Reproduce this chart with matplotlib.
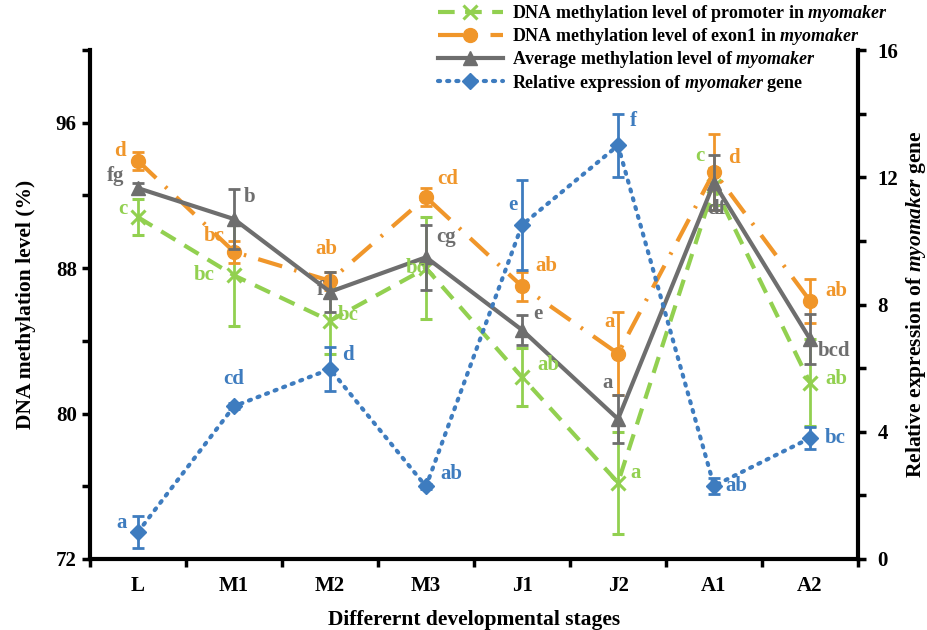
import matplotlib
matplotlib.use("Agg")
import matplotlib.pyplot as plt
import numpy as np
from matplotlib.ticker import MultipleLocator

plt.rcParams['font.family'] = ['Liberation Serif', 'DejaVu Serif']
plt.rcParams['font.weight'] = 'bold'
plt.rcParams['mathtext.fontset'] = 'custom'
plt.rcParams['mathtext.rm'] = 'Liberation Serif:bold'
plt.rcParams['mathtext.it'] = 'Liberation Serif:bold:italic'

stages = ["L", "M1", "M2", "M3", "J1", "J2", "A1", "A2"]

promoter = [90.8, 87.6, 85.1, 88.0, 82.0, 76.2, 92.5, 81.7]
promoter_err = [1.0, 2.8, 1.8, 2.8, 1.6, 2.8, 1.0, 2.4]
promoter_sig = ["c", "bc", "bc", "bc", "ab", "a", "c", "ab"]

exon1 = [93.9, 88.9, 87.3, 91.9, 87.0, 83.3, 93.3, 86.2]
exon1_err = [0.5, 0.6, 0.5, 0.5, 0.8, 2.3, 2.1, 1.2]
exon1_sig = ["d", "bc", "ab", "cd", "ab", "a", "d", "ab"]

average = [92.4, 90.7, 86.7, 88.6, 84.6, 79.7, 92.7, 84.1]
average_err = [0.3, 1.65, 1.1, 1.8, 0.8, 1.3, 1.5, 1.4]
average_sig = ["fg", "b", "f", "cg", "e", "a", "df", "bcd"]

expression = [0.85, 4.8, 5.97, 2.28, 10.5, 13.0, 2.3, 3.8]
expression_err = [0.5, 0.1, 0.7, 0.08, 1.4, 1.0, 0.25, 0.35]
expression_sig = ["a", "cd", "d", "ab", "e", "f", "ab", "bc"]

series_labels = [r"DNA methylation level of promoter in $\mathit{myomaker}$",
                 r"DNA methylation level of exon1 in $\mathit{myomaker}$",
                 r"Average methylation level of $\mathit{myomaker}$",
                 r"Relative expression of $\mathit{myomaker}$ gene"]

c_green = "#92D050"
c_orange = "#F0962A"
c_gray = "#6E6E6E"
c_blue = "#3E7CBF"

x = np.arange(len(stages)) + 0.5

fig = plt.figure(figsize=(9.27, 6.30), dpi=100)
ax = fig.add_axes([0.0971, 0.1127, 0.8285, 0.8079])
ax2 = ax.twinx()

lw = 3
h1 = ax.errorbar(x, promoter, yerr=promoter_err, color=c_green, lw=lw, ls=(0, (4, 2.5)),
                 marker='x', ms=10, mew=2.2, elinewidth=2, capsize=4, capthick=2, zorder=3)
h2 = ax.errorbar(x, exon1, yerr=exon1_err, color=c_orange, lw=lw, ls=(0, (6, 3, 0.6, 3)),
                 marker='o', ms=10, elinewidth=2, capsize=4, capthick=2, zorder=4)
h3 = ax.errorbar(x, average, yerr=average_err, color=c_gray, lw=lw, ls='-',
                 marker='^', ms=10, elinewidth=2, capsize=4, capthick=2, zorder=5)
h4 = ax2.errorbar(x, expression, yerr=expression_err, color=c_blue, lw=lw, ls=(0, (0.5, 1.7)),
                  dash_capstyle='round', marker='D', ms=8, elinewidth=2, capsize=4, capthick=2)

fs = 15
ax.set_xlim(0, 8)
ax.set_ylim(72, 100)
ax2.set_ylim(0, 16)
ax.set_xticks(np.arange(0, 9))
ax.set_xticklabels([])
ax.set_xticks(x, minor=True)
ax.set_xticklabels(stages, minor=True, fontsize=fs, fontweight='bold')
ax.tick_params(axis='x', which='minor', length=0, pad=12)
ax.tick_params(axis='x', which='major', length=6, width=2.5, direction='out')

ax.set_yticks([72, 80, 88, 96])
ax.yaxis.set_minor_locator(MultipleLocator(4))
ax.tick_params(axis='y', which='both', length=6, width=2.5, direction='out', labelsize=fs)
ax2.set_yticks([0, 4, 8, 12, 16])
ax2.yaxis.set_minor_locator(MultipleLocator(2))
ax2.tick_params(axis='y', which='both', length=6, width=2.5, direction='out', labelsize=fs, pad=8)
for lab in ax.get_yticklabels() + ax2.get_yticklabels():
    lab.set_fontweight('bold')

for a in (ax, ax2):
    a.spines['top'].set_visible(False)
    for s in ('left', 'right', 'bottom'):
        a.spines[s].set_linewidth(3)
ax.spines['right'].set_visible(False)
ax2.spines['left'].set_visible(False)
ax2.spines['bottom'].set_visible(False)

ax.set_ylabel("DNA methylation level (%)", fontsize=15.5, fontweight='bold', labelpad=14)
ax2.set_ylabel(r"Relative expression of $\mathit{myomaker}$ gene", fontsize=15.5,
               fontweight='bold', labelpad=4)
ax.set_xlabel("Differernt developmental stages", fontsize=15.5, fontweight='bold', labelpad=10)

# significance letters: pixel offsets from each point
off_green = [(-15, 8), (-30, 0), (18, 6), (-10, 0), (26, 12), (18, 10), (-14, 30), (26, 4)]
off_orange = [(-18, 10), (-20, 16), (-4, 32), (22, 18), (24, 20), (-8, 32), (20, 14), (26, 10)]
off_gray = [(-22, 12), (16, 22), (-10, 2), (20, 20), (16, 16), (-10, 36), (2, -26), (24, -12)]
off_blue = [(-16, 9), (0, 27), (18, 14), (25, 12), (-9, 20), (15, 24), (22, 0), (25, 0)]

def put(axis, vals, sigs, offs, col):
    for xi, v, s, o in zip(x, vals, sigs, offs):
        axis.annotate(s, (xi, v), xytext=o, textcoords='offset pixels', color=col,
                      fontsize=fs, fontweight='bold', ha='center', va='center', zorder=6)

put(ax, promoter, promoter_sig, off_green, c_green)
put(ax, exon1, exon1_sig, off_orange, c_orange)
put(ax, average, average_sig, off_gray, c_gray)
put(ax2, expression, expression_sig, off_blue, c_blue)

handles = [h1.lines[0], h2.lines[0], h3.lines[0], h4.lines[0]]
leg = fig.legend(handles, series_labels, loc='upper right', bbox_to_anchor=(0.958, 0.995),
                 frameon=False, prop={'weight': 'bold', 'size': 13}, handlelength=3.6,
                 handletextpad=0.5, labelspacing=0.12, borderaxespad=0, borderpad=0)

fig.savefig("out.png", dpi=100)
